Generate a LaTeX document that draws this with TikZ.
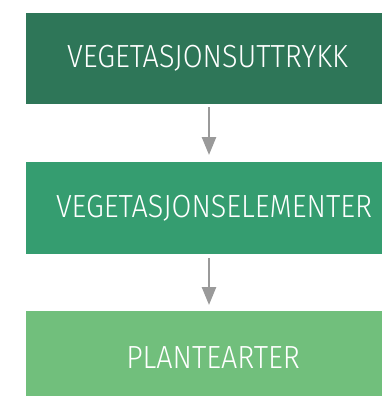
\documentclass[tikz,border=0pt]{standalone}
\usepackage{fontspec}
\setmainfont{Fira Sans Light}[FakeStretch=0.9]
\usetikzlibrary{arrows.meta}
\definecolor{levelone}{HTML}{2E7658}
\definecolor{leveltwo}{HTML}{359D70}
\definecolor{levelthree}{HTML}{71BF7C}
\definecolor{linkgray}{HTML}{9A9A9A}
\tikzset{
  levelbox/.style={rectangle, draw=none, minimum width=366pt, inner sep=0pt,
    text=white, font=\fontsize{32}{34}\selectfont, anchor=north},
  link/.style={draw=linkgray, line width=2.6pt,
    -{Triangle[length=18pt,width=14pt]}}
}
\begin{document}
\begin{tikzpicture}[x=1pt,y=-1pt]
  \useasboundingbox (0,0) rectangle (382,396);
  \begin{scope}
    \clip (0,0) rectangle (382,396);
    \node[levelbox, fill=levelone, minimum height=91pt] (expr) at (209,13) {\hspace*{-3pt}VEGETASJONSUTTRYKK};
    \node[levelbox, fill=leveltwo, minimum height=92pt] (elem) at (209,162) {\hspace*{10pt}VEGETASJONSELEMENTER};
    \node[levelbox, fill=levelthree, minimum height=92pt] (spec) at (209,311) {\raisebox{-8pt}{\hspace*{8pt}PLANTEARTER}};
  \end{scope}
  \draw[link, shorten <=3pt, shorten >=7pt] (expr.south) -- (elem.north);
  \draw[link, shorten <=4pt, shorten >=6pt] (elem.south) -- (spec.north);
\end{tikzpicture}
\end{document}
